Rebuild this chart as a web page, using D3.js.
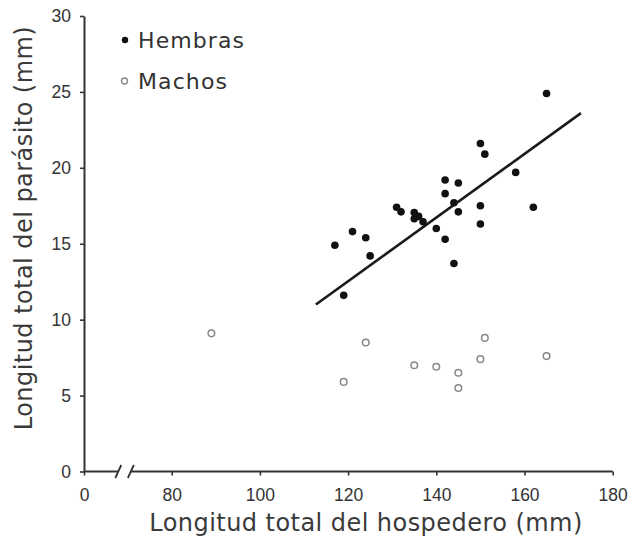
<!DOCTYPE html>
<html>
<head>
<meta charset="utf-8">
<script src="https://cdn.jsdelivr.net/npm/d3@7"></script>
<style>
  body { margin: 0; background: #fff; }
  .tick text { font-family: "Liberation Sans", Arial, sans-serif; font-size: 17.5px; fill: #333; }
  .title { font-family: "DejaVu Sans", sans-serif; font-size: 24px; letter-spacing: 0.45px; fill: #3a3a3a; }
  .legend { font-family: "DejaVu Sans", sans-serif; font-size: 22px; letter-spacing: 1.1px; fill: #333; }
</style>
</head>
<body>
<svg id="chart" width="633" height="544"></svg>
<script>
// host length (mm) vs parasite length (mm)
const hembrasX = [165, 150, 151, 158, 142, 145, 142, 144, 150, 162, 131, 132, 145, 135, 136, 135, 137, 150, 140, 121, 124, 142, 117, 125, 144, 119];
const hembrasY = [24.9, 21.6, 20.9, 19.7, 19.2, 19.0, 18.3, 17.7, 17.5, 17.4, 17.4, 17.1, 17.1, 17.05, 16.8, 16.65, 16.45, 16.3, 16.0, 15.8, 15.4, 15.3, 14.9, 14.2, 13.7, 11.6];
const machosX = [89, 124, 151, 135, 140, 150, 165, 145, 145, 119];
const machosY = [9.1, 8.5, 8.8, 7.0, 6.9, 7.4, 7.6, 6.5, 5.5, 5.9];
// regression line for females (start / end)
const fitX = [112.7, 172.8];
const fitY = [11.0, 23.6];
const xTicks = [0, 80, 100, 120, 140, 160, 180];
const yTicks = [0, 5, 10, 15, 20, 25, 30];
const xBreak = 37;

const svg = d3.select("#chart"),
  margin = {top: 16, right: 20, bottom: 72, left: 84},
  width = 528.7,
  height = 455.5,
  g = svg.append("g").attr("transform", `translate(${margin.left},${margin.top})`);

// broken axis: 0 sits at the origin, 80..180 is linear
const x = d3.scaleLinear().domain([0, 80, 180]).range([0, 87.7, width]);
const y = d3.scaleLinear().domain([0, 30]).range([height, 0]);

const axisColor = "#333";

const yAxis = g.append("g")
  .call(d3.axisLeft(y).tickValues(yTicks).tickSize(4).tickSizeOuter(0).tickPadding(9));
yAxis.select(".domain").attr("stroke", axisColor).attr("stroke-width", 2);
yAxis.selectAll(".tick line").attr("stroke", axisColor).attr("stroke-width", 1.6);

const xAxis = g.append("g")
  .attr("transform", `translate(0,${height})`)
  .call(d3.axisBottom(x).tickValues(xTicks).tickSize(4).tickSizeOuter(0).tickPadding(13));
xAxis.select(".domain").remove();
xAxis.selectAll(".tick line").attr("stroke", axisColor).attr("stroke-width", 1.6);

const bx = x(xBreak), gap = 6.3;
xAxis.append("line")
  .attr("x1", x(0)).attr("x2", bx - gap)
  .attr("stroke", axisColor).attr("stroke-width", 2);
xAxis.append("line")
  .attr("x1", bx + gap).attr("x2", x(180))
  .attr("stroke", axisColor).attr("stroke-width", 2);
xAxis.selectAll(".brk")
  .data([bx - gap, bx + gap])
  .join("line")
  .attr("class", "brk")
  .attr("x1", d => d - 3).attr("y1", 6.5)
  .attr("x2", d => d + 3).attr("y2", -6.5)
  .attr("stroke", axisColor).attr("stroke-width", 1.8);

// regression line
g.append("line")
  .attr("x1", x(fitX[0])).attr("y1", y(fitY[0]))
  .attr("x2", x(fitX[1])).attr("y2", y(fitY[1]))
  .attr("stroke", "#1a1a1a")
  .attr("stroke-width", 2.6);

g.selectAll(".macho")
  .data(machosX.map((d, i) => ({x: d, y: machosY[i]})))
  .join("circle")
  .attr("class", "macho")
  .attr("cx", d => x(d.x))
  .attr("cy", d => y(d.y))
  .attr("r", 3.3)
  .attr("fill", "#fff")
  .attr("stroke", "#888")
  .attr("stroke-width", 1.5);

g.selectAll(".hembra")
  .data(hembrasX.map((d, i) => ({x: d, y: hembrasY[i]})))
  .join("circle")
  .attr("class", "hembra")
  .attr("cx", d => x(d.x))
  .attr("cy", d => y(d.y))
  .attr("r", 3.8)
  .attr("fill", "#111");

// legend
const legend = svg.append("g");
legend.append("circle").attr("cx", 125).attr("cy", 40).attr("r", 3.2).attr("fill", "#111");
legend.append("text").attr("class", "legend").attr("x", 138).attr("y", 47.5).text("Hembras");
legend.append("circle").attr("cx", 124.5).attr("cy", 81).attr("r", 3).attr("fill", "#fff")
  .attr("stroke", "#888").attr("stroke-width", 1.4);
legend.append("text").attr("class", "legend").attr("x", 138).attr("y", 88.5).text("Machos");

svg.append("text")
  .attr("class", "title")
  .attr("x", 366)
  .attr("y", 531)
  .attr("text-anchor", "middle")
  .text("Longitud total del hospedero (mm)");

svg.append("text")
  .attr("class", "title")
  .attr("transform", "translate(32,228) rotate(-90)")
  .attr("text-anchor", "middle")
  .text("Longitud total del parásito (mm)");
</script>
</body>
</html>
